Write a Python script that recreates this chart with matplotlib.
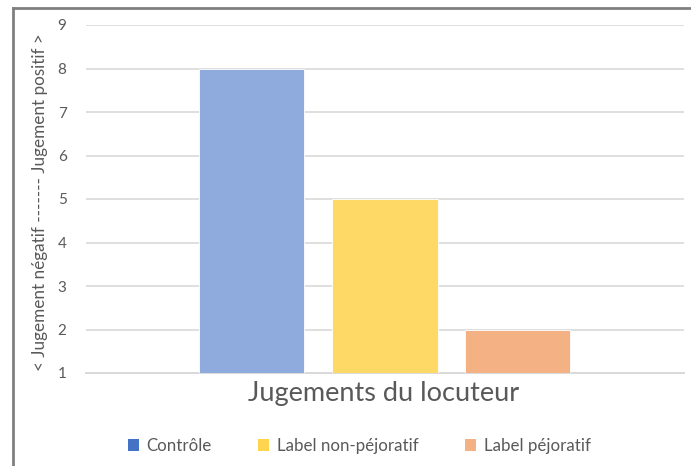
import matplotlib
matplotlib.use("Agg")
import matplotlib.pyplot as plt
from matplotlib.patches import Patch
from matplotlib.lines import Line2D

plt.rcParams['font.family'] = ['Lato', 'DejaVu Sans']

category = "Jugements du locuteur"
series = ["Contrôle", "Label non-péjoratif", "Label péjoratif"]
values = [8, 5, 2]
yticks = [1, 2, 3, 4, 5, 6, 7, 8, 9]
ylabel = "< Jugement négatif ------- Jugement positif >"

bar_colors = ["#8faadc", "#ffd966", "#f4b183"]
legend_colors = ["#4472c4", "#ffd54f", "#f4b183"]
text_color = "#595959"
grid_color = "#d9d9d9"

W, H = 691, 466
fig = plt.figure(figsize=(W / 100, H / 100), dpi=100)
ax = fig.add_axes([86 / W, 1 - 373 / H, 598 / W, 348 / H])

offsets = [-0.2232, 0.0, 0.2224]
width = 0.1756
base = yticks[0]
for off, val, col in zip(offsets, values, bar_colors):
    ax.bar(off, val - base, bottom=base, width=width, color=col,
           edgecolor="white", linewidth=0.6, zorder=3)

ax.set_xlim(-0.5, 0.5)
ax.set_ylim(yticks[0], yticks[-1])
ax.set_yticks(yticks)
ax.set_yticklabels([str(t) for t in yticks], fontsize=11, color=text_color)
ax.set_xticks([])
ax.tick_params(axis="y", length=0, pad=14)
ax.yaxis.grid(True, color=grid_color, linewidth=1.2, zorder=0)
ax.set_axisbelow(True)
for s in ax.spines.values():
    s.set_visible(False)
ax.axhline(base, color=grid_color, linewidth=1.4, zorder=2, clip_on=False)

ax.set_ylabel(ylabel, fontsize=12.3, color=text_color)
ax.yaxis.set_label_coords(-38 / 598, 0.49)

fig.text(384 / W, 1 - 394 / H, category, fontsize=19.5, color=text_color,
         ha="center", va="center")

handles = [Patch(facecolor=c, edgecolor="none") for c in legend_colors]
fig.legend(handles, series, loc="center", bbox_to_anchor=(359 / W, 1 - 446 / H),
           ncol=3, frameon=False, fontsize=12.2, labelcolor=text_color,
           handlelength=0.65, handleheight=0.65, handletextpad=0.45,
           columnspacing=2.75)

# outer frame lines (left and top)
fig.add_artist(Line2D([12.5 / W, 12.5 / W], [0, 1 - 8 / H], transform=fig.transFigure,
                      color="#808080", linewidth=2))
fig.add_artist(Line2D([12.5 / W, 1], [1 - 8 / H, 1 - 8 / H], transform=fig.transFigure,
                      color="#808080", linewidth=2))

fig.savefig("out.png", dpi=100)
